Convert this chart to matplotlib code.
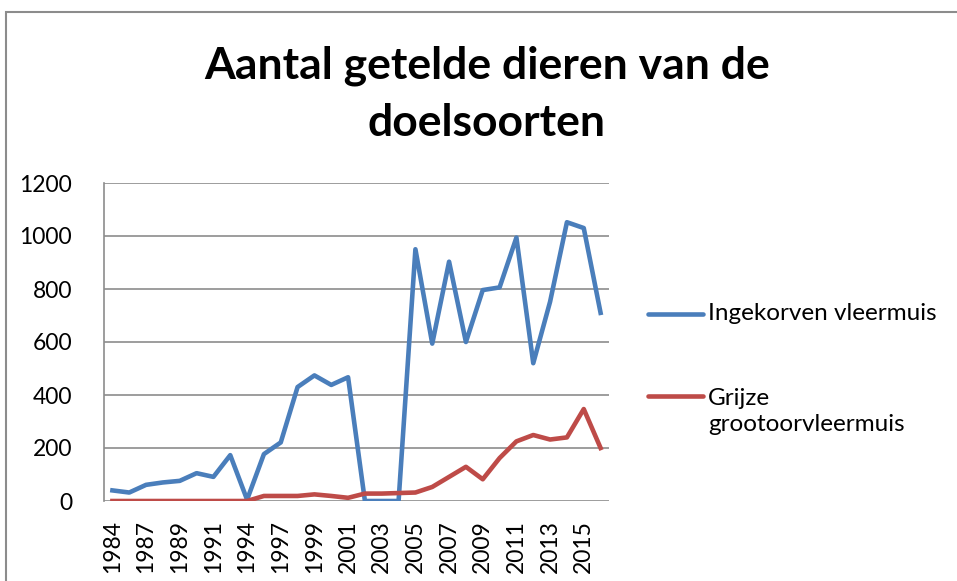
import matplotlib
matplotlib.use("Agg")
import matplotlib.pyplot as plt
from matplotlib.lines import Line2D
from matplotlib.patches import Rectangle

years = [1984, 1986, 1987, 1988, 1989, 1990, 1991, 1993, 1994, 1996,
         1997, 1998, 1999, 2000, 2001, 2002, 2003, 2004, 2005, 2006,
         2007, 2008, 2009, 2010, 2011, 2012, 2013, 2014, 2015, 2016]
ingekorven = [40, 32, 61, 70, 76, 105, 91, 173, 5, 177,
              221, 430, 474, 438, 467, 0, 0, 0, 950, 594,
              903, 600, 796, 806, 994, 520, 752, 1052, 1030, 710]
grijze = [0, 0, 0, 0, 0, 0, 0, 0, 0, 19,
          19, 19, 25, 19, 12, 28, 28, 30, 32, 53,
          91, 129, 82, 162, 225, 249, 232, 240, 347, 200]
series_names = ["Ingekorven vleermuis", "Grijze\ngrootoorvleermuis"]
title = "Aantal getelde dieren van de\ndoelsoorten"

FONT = "Lato"
W, H = 957, 581
fig = plt.figure(figsize=(W / 100, H / 100), dpi=100)
fig.patch.set_facecolor("white")

# outer chart border
fig.add_artist(Rectangle((6 / W, -0.1), 1.2, 1 - 12 / H + 0.1, transform=fig.transFigure,
                         fill=False, edgecolor="#8c8c8c", linewidth=1.5))

ax = fig.add_axes([104 / W, 1 - 501 / H, (609 - 104) / W, (501 - 183) / H])
x = list(range(len(years)))
blue = "#4A7EBB"
red = "#BE4B48"
ax.plot(x, ingekorven, color=blue, linewidth=3.3, solid_joinstyle="round", zorder=3)
ax.plot(x, grijze, color=red, linewidth=3.3, solid_joinstyle="round", zorder=3)

ax.set_xlim(-0.5, len(years) - 0.5)
ax.set_ylim(0, 1200)
ax.set_yticks(range(0, 1201, 200))
ax.set_xticks(x[::2])
ax.set_xticklabels([str(y) for y in years[::2]], rotation=90, family=FONT, fontsize=16.5)
ax.set_yticklabels([str(v) for v in range(0, 1201, 200)], family=FONT, fontsize=16.5)
ax.tick_params(axis="both", length=0, colors="#000000")
ax.tick_params(axis="y", pad=23)
ax.tick_params(axis="x", pad=14)
ax.grid(axis="y", color="#8c8c8c", linewidth=1.2)
ax.set_axisbelow(True)
for s in ["top", "right", "bottom"]:
    ax.spines[s].set_visible(False)
ax.spines["left"].set_color("#8c8c8c")
ax.spines["left"].set_linewidth(1.2)

# title, one text per line
for line, base in zip(title.split("\n"), [78, 136]):
    fig.text(487 / W, 1 - base / H, line, ha="center", va="baseline", family=FONT,
             fontweight="bold", fontsize=32)

# legend
for color, name, yc in [(blue, series_names[0], 314), (red, series_names[1], 396)]:
    fig.add_artist(Line2D([648 / W, 703 / W], [1 - yc / H, 1 - yc / H], transform=fig.transFigure,
                          color=color, linewidth=3.3, solid_capstyle="round"))
    nlines = name.count("\n") + 1
    ycenter = yc + (nlines - 1) * 31 / 2
    fig.text(708 / W, 1 - ycenter / H, name, ha="left", va="center",
             family=FONT, fontsize=17.5, linespacing=1.3)

fig.savefig("out.png", dpi=100)
